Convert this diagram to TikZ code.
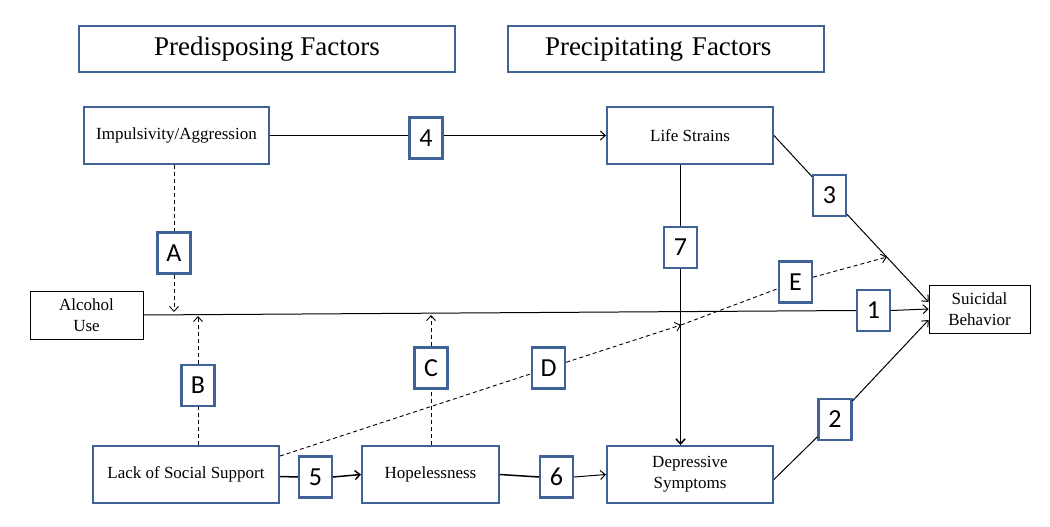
\documentclass[tikz,border=0pt]{standalone}
\usepackage{fontspec}
\setmainfont{Liberation Serif}
\newfontfamily\labfont{Carlito}
\usetikzlibrary{arrows.meta,calc}
\definecolor{boxblue}{HTML}{3F6396}
\begin{document}
\begin{tikzpicture}[x=1pt,y=-1pt,
  header/.style={draw=boxblue,line width=1.9pt,font=\fontsize{27}{30}\selectfont,inner sep=0pt},
  var/.style={draw=boxblue,line width=1.9pt,font=\fontsize{17}{21}\selectfont,align=center,inner sep=0pt},
  plainbox/.style={draw=black,line width=0.8pt,font=\fontsize{17}{21}\selectfont,align=center,inner sep=0pt},
  lab/.style={draw=boxblue,line width=2.1pt,fill=white,font=\labfont\fontsize{26}{26}\selectfont,minimum width=33pt,minimum height=41pt,inner sep=0pt},
  conn/.style={line width=1pt},
  thick conn/.style={line width=1.5pt},
  dashline/.style={line width=0.9pt,dash pattern=on 4pt off 3pt},
  arr/.style={-{Straight Barb[length=5pt,width=9pt]}}
]
\useasboundingbox (0,0) rectangle (1050,527);
% header boxes
\node[header,minimum width=376pt,minimum height=46pt] (pred) at (267,49) {Predisposing Factors};
\node[header,minimum width=316pt,minimum height=46pt,text width=242pt,align=left] (prec) at (666,49) {Precipitating Factors};
% variable boxes
\node[var,minimum width=185pt,minimum height=57pt] (imp) at (176.5,135.5) {Impulsivity/Aggression};
\node[var,minimum width=166pt,minimum height=57pt] (life) at (690,135.5) {\raisebox{-2pt}{Life Strains}};
\node[plainbox,minimum width=113pt,minimum height=48pt] (alc) at (86.5,315) {Alcohol\\Use};
\node[plainbox,minimum width=101pt,minimum height=48pt] (sui) at (979.5,309) {Suicidal\\Behavior};
\node[var,minimum width=186pt,minimum height=57pt] (lss) at (186,474.5) {Lack of Social Support};
\node[var,minimum width=137pt,minimum height=57pt] (hope) at (430.5,474.5) {\raisebox{2pt}{Hopelessness}};
\node[var,minimum width=166pt,minimum height=57pt] (dep) at (690,474.5) {Depressive\\Symptoms};
% label boxes
\node[lab] (l4) at (426,138) {4};
\node[lab] (l3) at (829.5,195.5) {3};
\node[lab] (l7) at (680.5,247.5) {7};
\node[lab] (lA) at (174,253) {A};
\node[lab] (l1) at (873.5,310.5) {1};
\node[lab] (lB) at (198,385.5) {B};
\node[lab] (lC) at (431,368) {C};
\node[lab] (lD) at (548.5,368) {D};
\node[lab] (lE) at (795.5,282) {E};
\node[lab] (l2) at (835,419.5) {2};
\node[lab] (l5) at (315.5,477) {5};
\node[lab] (l6) at (556.5,477) {6};
% helper coordinates
\coordinate (s3) at ($(sui.west)+(0,-7)$);
\coordinate (s2) at ($(sui.west)+(0,11)$);
\coordinate (aA) at (174,312);
\coordinate (aB) at (198,316);
\coordinate (aC) at (431,315);
\coordinate (dS) at ($(lss.north east)+(0,11)$);
\coordinate (d7) at (681,325);
\coordinate (e3) at ($(life.east)!0.73!(s3)$);
% path 4
\draw[thick conn] (imp.east) -- (imp.east -| l4.west);
\draw[conn,arr] (life.west -| l4.east) -- (life.west);
% path 3
\draw[conn] (life.east) -- (l3);
\draw[conn,arr] (l3) -- (s3);
% path 7
\draw[thick conn] (life.south -| l7) -- (l7.north);
\draw[thick conn,arr] (l7.south) -- (dep.north -| l7);
% path 1
\draw[conn] (alc.east) -- (l1.west);
\draw[conn,arr] (l1.east) -- (sui.west);
% path 2
\draw[conn] (dep.east) ++(0,5) -- (l2);
\draw[conn,arr] (l2) -- (s2);
% path 5, 6
\draw[thick conn] (lss.east) ++(0,2) -- (l5.west);
\draw[thick conn,arr] (l5.east) -- (hope.west);
\draw[thick conn] (hope.east) -- (l6.west);
\draw[conn,arr] (l6.east) -- (dep.west);
% moderation paths
\draw[dashline] (imp.south -| lA) -- (lA.north);
\draw[dashline,arr] (lA.south) -- (aA);
\draw[dashline] (lss.north -| lB) -- (lB.south);
\draw[dashline,arr] (lB.north) -- (aB);
\draw[dashline] (hope.north -| lC) -- (lC.south);
\draw[dashline,arr] (lC.north) -- (aC);
\draw[dashline] (dS) -- (lD);
\draw[dashline,arr] (lD) -- (d7);
\draw[dashline] (d7) -- (lE);
\draw[dashline,arr] (lE) -- (e3);
\end{tikzpicture}
\end{document}
